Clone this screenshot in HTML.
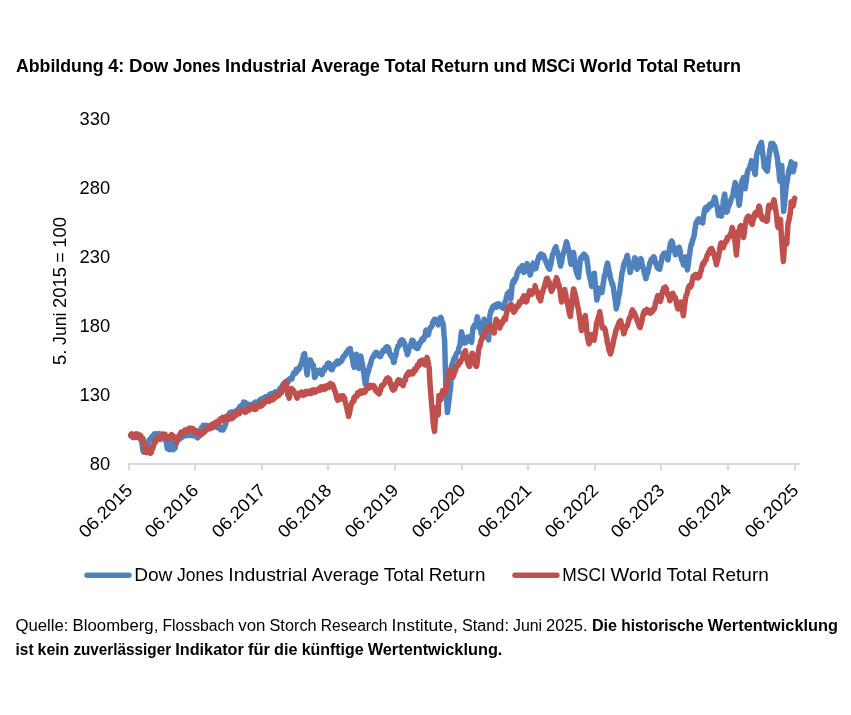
<!DOCTYPE html>
<html lang="de"><head><meta charset="utf-8"><title>Abbildung 4</title>
<style>html,body{margin:0;padding:0;background:#fff}body{width:851px;height:715px;overflow:hidden}svg{display:block}text{font-family:"Liberation Sans",sans-serif;fill:#000}.b{font-weight:bold}</style>
</head><body>
<svg width="851" height="715" viewBox="0 0 851 715">
<rect width="851" height="715" fill="#fff"/>
<text class="b" y="71.8" font-size="17.6"><tspan x="16.0" textLength="87.6" lengthAdjust="spacingAndGlyphs">Abbildung</tspan> <tspan x="108.2" textLength="16.1" lengthAdjust="spacingAndGlyphs">4:</tspan> <tspan x="129.0" textLength="39.3" lengthAdjust="spacingAndGlyphs">Dow</tspan> <tspan x="173.0" textLength="47.5" lengthAdjust="spacingAndGlyphs">Jones</tspan> <tspan x="225.1" textLength="81.3" lengthAdjust="spacingAndGlyphs">Industrial</tspan> <tspan x="311.1" textLength="68.8" lengthAdjust="spacingAndGlyphs">Average</tspan> <tspan x="384.6" textLength="41.6" lengthAdjust="spacingAndGlyphs">Total</tspan> <tspan x="430.9" textLength="58.1" lengthAdjust="spacingAndGlyphs">Return</tspan> <tspan x="493.6" textLength="33.1" lengthAdjust="spacingAndGlyphs">und</tspan> <tspan x="531.4" textLength="43.7" lengthAdjust="spacingAndGlyphs">MSCi</tspan> <tspan x="579.7" textLength="52.3" lengthAdjust="spacingAndGlyphs">World</tspan> <tspan x="636.7" textLength="41.6" lengthAdjust="spacingAndGlyphs">Total</tspan> <tspan x="682.9" textLength="58.1" lengthAdjust="spacingAndGlyphs">Return</tspan></text>
<text x="79.6" y="124.9" font-size="17.9" textLength="30.6" lengthAdjust="spacingAndGlyphs">330</text>
<text x="79.6" y="193.8" font-size="17.9" textLength="30.6" lengthAdjust="spacingAndGlyphs">280</text>
<text x="79.6" y="263.1" font-size="17.9" textLength="30.6" lengthAdjust="spacingAndGlyphs">230</text>
<text x="79.6" y="331.9" font-size="17.9" textLength="30.6" lengthAdjust="spacingAndGlyphs">180</text>
<text x="79.6" y="400.9" font-size="17.9" textLength="30.6" lengthAdjust="spacingAndGlyphs">130</text>
<text x="89.8" y="469.8" font-size="17.9" textLength="20.4" lengthAdjust="spacingAndGlyphs">80</text>
<text y="0" font-size="17.9" transform="translate(66.4 364.9) rotate(-90)"><tspan x="0.0" textLength="15.4" lengthAdjust="spacingAndGlyphs">5.</tspan> <tspan x="20.0" textLength="32.4" lengthAdjust="spacingAndGlyphs">Juni</tspan> <tspan x="56.9" textLength="41.1" lengthAdjust="spacingAndGlyphs">2015</tspan> <tspan x="102.5" textLength="10.1" lengthAdjust="spacingAndGlyphs">=</tspan> <tspan x="117.2" textLength="30.8" lengthAdjust="spacingAndGlyphs">100</tspan></text>
<path d="M129,470 V464 H800" stroke="#d9d9d9" stroke-width="2" stroke-linejoin="round" fill="none"/>
<path d="M195,464 V470 M262,464 V470 M328,464 V470 M395,464 V470 M462,464 V470 M528,464 V470 M595,464 V470 M661,464 V470 M728,464 V470 M795,464 V470" stroke="#d9d9d9" stroke-width="2" fill="none"/>
<text transform="translate(133.5 491.4) rotate(-45)" text-anchor="end" font-size="17.9" textLength="67.1" lengthAdjust="spacingAndGlyphs">06.2015</text>
<text transform="translate(199.5 491.4) rotate(-45)" text-anchor="end" font-size="17.9" textLength="67.1" lengthAdjust="spacingAndGlyphs">06.2016</text>
<text transform="translate(266.5 491.4) rotate(-45)" text-anchor="end" font-size="17.9" textLength="67.1" lengthAdjust="spacingAndGlyphs">06.2017</text>
<text transform="translate(332.5 491.4) rotate(-45)" text-anchor="end" font-size="17.9" textLength="67.1" lengthAdjust="spacingAndGlyphs">06.2018</text>
<text transform="translate(399.5 491.4) rotate(-45)" text-anchor="end" font-size="17.9" textLength="67.1" lengthAdjust="spacingAndGlyphs">06.2019</text>
<text transform="translate(466.5 491.4) rotate(-45)" text-anchor="end" font-size="17.9" textLength="67.1" lengthAdjust="spacingAndGlyphs">06.2020</text>
<text transform="translate(532.5 491.4) rotate(-45)" text-anchor="end" font-size="17.9" textLength="67.1" lengthAdjust="spacingAndGlyphs">06.2021</text>
<text transform="translate(599.5 491.4) rotate(-45)" text-anchor="end" font-size="17.9" textLength="67.1" lengthAdjust="spacingAndGlyphs">06.2022</text>
<text transform="translate(665.5 491.4) rotate(-45)" text-anchor="end" font-size="17.9" textLength="67.1" lengthAdjust="spacingAndGlyphs">06.2023</text>
<text transform="translate(732.5 491.4) rotate(-45)" text-anchor="end" font-size="17.9" textLength="67.1" lengthAdjust="spacingAndGlyphs">06.2024</text>
<text transform="translate(799.5 491.4) rotate(-45)" text-anchor="end" font-size="17.9" textLength="67.1" lengthAdjust="spacingAndGlyphs">06.2025</text>
<path d="M130.7,435.4 L131.2,434.3 L131.6,436.5 L132.1,435.6 L132.6,437.0 L133.1,437.5 L133.5,436.7 L134.0,436.0 L134.4,436.2 L134.9,434.1 L135.3,434.0 L135.7,435.0 L136.1,436.4 L136.6,436.7 L137.0,435.4 L137.4,435.5 L137.8,434.1 L138.2,434.3 L138.7,437.8 L139.1,435.5 L139.5,436.5 L140.0,436.9 L140.5,439.6 L141.0,437.8 L141.5,440.0 L141.9,443.0 L142.4,446.0 L142.9,450.4 L143.3,451.9 L143.7,449.7 L144.2,450.6 L144.6,452.0 L145.0,450.6 L145.5,448.4 L146.0,448.1 L146.5,448.2 L147.0,446.0 L147.5,445.9 L148.0,443.8 L148.5,442.5 L149.0,440.3 L149.5,440.3 L150.0,439.2 L150.5,439.0 L151.0,438.0 L151.5,436.9 L152.0,438.5 L152.5,436.4 L152.9,437.3 L153.3,435.4 L153.8,435.8 L154.2,434.1 L154.6,434.5 L155.0,434.7 L155.4,433.9 L155.9,435.3 L156.3,434.0 L156.7,434.2 L157.1,435.7 L157.6,434.4 L158.0,434.5 L158.4,435.8 L158.9,433.5 L159.3,435.8 L159.7,434.8 L160.1,434.5 L160.6,435.5 L161.0,435.2 L161.4,435.6 L161.9,435.2 L162.3,434.1 L162.7,434.2 L163.1,436.3 L163.6,436.4 L164.0,436.4 L164.4,438.3 L164.9,439.8 L165.4,440.7 L165.8,440.5 L166.2,441.6 L166.6,443.6 L167.0,446.7 L167.4,448.7 L167.9,444.4 L168.4,441.6 L168.9,446.4 L169.4,449.7 L169.9,446.7 L170.4,442.1 L170.9,446.5 L171.4,449.3 L171.9,446.3 L172.4,442.6 L172.9,447.0 L173.4,449.7 L173.8,446.2 L174.2,444.1 L174.6,445.3 L175.1,448.3 L175.6,445.2 L176.2,443.0 L176.6,443.1 L177.0,441.6 L177.4,440.5 L177.9,438.9 L178.3,438.5 L178.8,438.3 L179.3,438.1 L179.8,439.1 L180.2,437.4 L180.6,436.8 L181.0,436.7 L181.4,437.8 L181.9,437.1 L182.3,435.4 L182.7,435.7 L183.1,434.9 L183.5,436.3 L184.0,436.1 L184.4,435.5 L184.8,434.1 L185.2,435.2 L185.7,435.6 L186.1,432.1 L186.6,435.4 L187.0,432.8 L187.5,433.3 L187.9,433.5 L188.4,434.8 L188.8,435.4 L189.2,432.3 L189.6,434.3 L190.0,432.7 L190.5,434.1 L190.9,432.9 L191.3,435.5 L191.7,434.2 L192.1,434.8 L192.6,435.5 L193.0,434.4 L193.4,435.5 L193.8,435.7 L194.2,432.2 L194.7,432.7 L195.1,433.2 L195.5,433.5 L195.9,433.1 L196.3,434.3 L196.8,435.9 L197.2,437.6 L197.6,437.9 L198.0,437.5 L198.5,435.5 L199.0,433.9 L199.4,434.3 L199.9,432.8 L200.3,430.6 L200.8,429.3 L201.2,429.3 L201.6,427.2 L202.0,427.2 L202.5,428.0 L202.9,428.8 L203.4,425.3 L203.9,426.6 L204.3,426.9 L204.8,428.0 L205.3,428.7 L205.7,426.7 L206.2,425.3 L206.7,428.7 L207.1,428.8 L207.6,426.5 L208.1,427.2 L208.5,426.8 L209.0,427.9 L209.5,428.7 L209.9,425.7 L210.4,427.5 L210.8,428.5 L211.3,427.7 L211.7,425.0 L212.2,425.3 L212.7,425.6 L213.1,426.5 L213.6,427.4 L214.1,425.0 L214.5,425.1 L215.0,425.1 L215.5,425.2 L215.9,425.3 L216.4,426.0 L216.9,427.2 L217.3,426.3 L217.7,427.8 L218.1,426.7 L218.6,425.1 L219.0,425.4 L219.4,426.5 L219.9,427.1 L220.3,429.2 L220.8,429.7 L221.3,428.5 L221.7,428.3 L222.2,430.0 L222.6,430.0 L223.1,430.0 L223.5,428.4 L224.0,428.4 L224.4,426.5 L224.9,426.2 L225.3,425.0 L225.7,424.0 L226.1,420.3 L226.5,419.3 L227.0,419.0 L227.4,417.1 L227.8,416.0 L228.2,417.8 L228.6,414.4 L229.1,415.2 L229.5,414.2 L229.9,412.4 L230.3,412.4 L230.7,413.6 L231.1,412.9 L231.6,411.8 L232.1,412.9 L232.6,413.4 L233.0,412.2 L233.5,414.2 L234.0,412.0 L234.4,413.0 L234.9,411.7 L235.3,411.2 L235.8,411.3 L236.2,410.6 L236.7,413.8 L237.1,413.1 L237.6,411.8 L238.1,410.1 L238.5,409.2 L239.0,408.0 L239.5,407.9 L239.9,406.5 L240.4,406.7 L240.9,407.2 L241.4,405.5 L241.8,405.1 L242.3,405.5 L242.7,405.0 L243.2,405.4 L243.6,401.9 L244.1,403.6 L244.5,402.7 L245.0,404.1 L245.4,404.6 L245.9,402.9 L246.3,404.6 L246.8,405.6 L247.2,405.4 L247.7,404.8 L248.1,404.0 L248.5,407.1 L248.9,407.5 L249.3,406.8 L249.8,407.1 L250.2,407.0 L250.7,405.6 L251.1,407.8 L251.6,407.5 L252.1,407.0 L252.5,406.8 L253.0,403.8 L253.5,403.6 L253.9,404.2 L254.4,402.9 L254.9,403.9 L255.4,402.1 L255.8,405.1 L256.3,403.7 L256.8,403.0 L257.3,402.0 L257.7,402.9 L258.2,402.8 L258.6,403.5 L259.1,403.1 L259.6,400.6 L260.0,402.4 L260.5,399.4 L260.9,401.8 L261.4,401.0 L261.8,399.1 L262.3,399.4 L262.8,399.2 L263.2,399.4 L263.7,397.9 L264.1,400.3 L264.6,398.5 L265.1,400.0 L265.5,399.8 L266.0,396.5 L266.4,398.2 L266.9,396.9 L267.3,398.1 L267.8,397.3 L268.3,397.3 L268.7,396.7 L269.2,398.0 L269.6,394.5 L270.1,395.6 L270.5,394.6 L271.0,393.7 L271.5,395.5 L271.9,395.1 L272.4,395.3 L272.8,394.1 L273.3,394.8 L273.8,393.5 L274.2,395.5 L274.7,392.3 L275.1,391.9 L275.6,393.9 L276.0,392.7 L276.5,392.2 L277.0,394.5 L277.4,392.7 L277.9,392.9 L278.3,393.2 L278.8,392.8 L279.3,390.5 L279.8,388.9 L280.2,388.3 L280.7,390.5 L281.2,388.5 L281.6,387.8 L282.1,386.1 L282.5,385.2 L282.9,387.4 L283.3,384.1 L283.7,385.5 L284.2,384.1 L284.6,382.7 L285.1,385.0 L285.6,383.9 L286.1,381.2 L286.5,384.1 L287.0,381.9 L287.5,382.6 L287.9,381.5 L288.4,381.5 L288.9,379.4 L289.4,379.0 L289.8,378.7 L290.3,378.4 L290.8,378.1 L291.2,378.3 L291.7,379.0 L292.1,378.8 L292.6,375.7 L293.0,375.5 L293.4,373.6 L293.8,372.8 L294.2,372.7 L294.7,372.8 L295.2,373.5 L295.7,372.2 L296.1,369.6 L296.6,372.3 L297.1,368.9 L297.5,369.2 L298.0,369.6 L298.4,368.8 L298.8,369.5 L299.3,368.8 L299.7,367.8 L300.1,365.8 L300.5,365.2 L301.0,364.7 L301.5,363.2 L301.9,361.6 L302.4,358.9 L302.8,358.9 L303.3,355.5 L303.7,354.4 L304.1,354.3 L304.6,353.6 L305.0,357.4 L305.4,362.0 L305.8,365.2 L306.2,368.0 L306.7,372.0 L307.1,374.9 L307.5,371.4 L307.9,369.1 L308.3,365.2 L308.8,362.7 L309.2,361.7 L309.6,360.5 L310.0,359.8 L310.5,360.1 L311.0,363.7 L311.4,362.3 L311.9,363.3 L312.4,365.4 L312.9,365.2 L313.4,365.2 L313.8,368.5 L314.2,373.7 L314.6,377.4 L315.0,375.3 L315.4,376.6 L315.9,373.5 L316.3,374.0 L316.7,373.4 L317.2,371.0 L317.7,370.5 L318.1,370.8 L318.6,372.2 L319.0,371.6 L319.4,372.2 L319.8,372.9 L320.2,370.1 L320.7,371.5 L321.2,373.6 L321.7,374.7 L322.2,374.3 L322.6,372.4 L323.0,372.2 L323.4,370.3 L323.8,370.2 L324.3,370.4 L324.8,367.5 L325.2,367.8 L325.7,367.7 L326.2,367.9 L326.6,367.8 L327.1,364.3 L327.5,366.2 L328.0,363.4 L328.4,364.6 L328.9,363.0 L329.3,364.2 L329.8,363.7 L330.2,366.6 L330.7,368.2 L331.1,369.2 L331.6,369.8 L332.0,369.8 L332.4,368.9 L332.9,367.3 L333.3,366.3 L333.7,366.5 L334.2,365.7 L334.6,364.7 L335.0,364.4 L335.5,363.1 L335.9,362.6 L336.3,362.7 L336.8,361.9 L337.2,361.1 L337.7,361.5 L338.1,363.9 L338.5,360.9 L339.0,362.4 L339.4,362.8 L339.9,360.9 L340.3,361.3 L340.7,361.4 L341.2,361.6 L341.6,359.7 L342.0,359.9 L342.4,359.4 L342.8,357.2 L343.2,356.4 L343.7,356.8 L344.2,356.6 L344.7,355.2 L345.1,355.4 L345.6,353.6 L346.1,354.1 L346.6,352.0 L347.0,352.0 L347.5,352.6 L347.9,351.8 L348.4,349.4 L348.8,349.4 L349.3,351.1 L349.7,350.1 L350.2,348.6 L350.6,350.8 L351.0,352.0 L351.4,353.8 L351.9,357.3 L352.3,357.6 L352.7,360.2 L353.2,363.6 L353.7,366.0 L354.2,367.4 L354.7,364.4 L355.1,361.5 L355.6,359.5 L356.0,357.7 L356.5,354.2 L356.9,357.4 L357.3,360.0 L357.7,361.4 L358.2,362.9 L358.6,366.0 L359.0,368.6 L359.5,365.6 L359.9,362.9 L360.4,358.4 L360.9,356.1 L361.4,358.9 L361.9,362.3 L362.4,363.9 L362.9,367.5 L363.4,369.0 L363.9,373.6 L364.3,377.5 L364.8,381.3 L365.3,384.4 L365.7,381.7 L366.1,381.5 L366.5,378.1 L367.0,375.9 L367.4,374.4 L367.8,372.8 L368.2,372.2 L368.6,370.7 L369.1,368.1 L369.5,366.3 L369.9,366.3 L370.3,363.9 L370.8,363.8 L371.2,360.8 L371.7,359.4 L372.1,358.7 L372.6,357.3 L373.0,357.3 L373.5,356.4 L373.9,354.7 L374.3,355.2 L374.7,356.1 L375.1,355.6 L375.6,352.6 L376.0,353.0 L376.5,352.4 L376.9,352.9 L377.4,354.8 L377.9,354.4 L378.3,353.9 L378.8,354.5 L379.3,355.2 L379.8,356.7 L380.2,356.6 L380.7,356.2 L381.1,354.1 L381.6,354.2 L382.0,352.8 L382.5,351.8 L382.9,350.7 L383.4,350.1 L383.8,349.9 L384.3,351.4 L384.7,351.1 L385.2,350.8 L385.7,347.6 L386.1,348.2 L386.6,347.4 L387.0,346.7 L387.5,346.9 L387.9,347.3 L388.4,347.8 L388.8,348.7 L389.3,351.9 L389.7,353.5 L390.2,354.9 L390.6,354.2 L391.1,356.4 L391.6,356.4 L392.1,357.0 L392.5,358.0 L393.0,359.0 L393.5,362.4 L394.0,362.3 L394.4,361.2 L394.8,358.1 L395.3,355.8 L395.7,356.0 L396.1,353.8 L396.5,351.0 L397.0,349.3 L397.4,347.6 L397.8,346.1 L398.3,346.1 L398.7,346.3 L399.1,344.9 L399.6,345.1 L400.0,341.6 L400.5,342.2 L400.9,342.5 L401.3,340.0 L401.8,339.8 L402.2,340.0 L402.6,341.3 L403.1,340.5 L403.5,343.1 L403.9,342.5 L404.3,342.6 L404.8,344.3 L405.2,347.1 L405.7,346.7 L406.1,350.5 L406.6,350.2 L407.0,352.5 L407.4,354.8 L407.9,353.2 L408.3,351.7 L408.8,349.3 L409.2,347.8 L409.7,346.6 L410.1,347.3 L410.5,345.9 L411.0,344.1 L411.4,342.5 L411.9,340.4 L412.3,342.1 L412.7,341.7 L413.1,340.6 L413.5,342.6 L414.0,342.6 L414.4,343.8 L414.8,343.5 L415.2,346.7 L415.6,347.5 L416.1,347.9 L416.5,348.4 L416.9,348.5 L417.4,348.5 L417.8,348.4 L418.3,346.8 L418.8,346.1 L419.3,343.6 L419.7,342.7 L420.2,343.0 L420.7,342.6 L421.1,340.9 L421.6,339.7 L422.1,339.0 L422.6,340.5 L423.0,338.2 L423.5,339.7 L424.0,338.5 L424.4,336.9 L424.9,335.6 L425.3,333.7 L425.7,330.6 L426.1,330.2 L426.5,330.6 L426.9,334.1 L427.3,334.8 L427.8,333.2 L428.2,334.9 L428.6,334.3 L429.1,331.2 L429.5,330.0 L430.0,328.8 L430.4,327.6 L430.9,327.0 L431.3,326.4 L431.8,326.4 L432.3,324.8 L432.7,322.4 L433.2,321.5 L433.7,320.6 L434.2,319.7 L434.6,319.3 L435.1,319.2 L435.6,319.8 L436.0,319.6 L436.5,320.7 L436.9,321.0 L437.4,323.3 L437.8,323.7 L438.2,324.8 L438.7,322.6 L439.1,321.9 L439.5,319.9 L439.9,318.6 L440.3,317.7 L440.8,317.4 L441.2,319.1 L441.6,319.2 L442.0,322.5 L442.4,322.7 L442.9,323.0 L443.3,325.2 L443.7,330.4 L444.1,335.8 L444.6,340.3 L445.2,362.9 L445.8,385.2 L446.2,392.5 L446.6,398.5 L447.0,406.0 L447.4,412.5 L447.9,409.7 L448.3,405.4 L448.7,402.0 L449.2,398.9 L449.6,395.2 L450.0,391.3 L450.4,389.3 L450.8,385.2 L451.5,365.5 L451.9,365.4 L452.3,364.6 L452.7,362.7 L453.2,361.5 L453.6,359.2 L454.0,359.2 L454.5,357.5 L454.9,358.3 L455.4,358.2 L455.9,355.1 L456.3,353.8 L456.8,353.1 L457.3,352.9 L457.8,352.9 L458.2,351.8 L458.6,348.7 L459.0,347.5 L459.4,346.1 L459.9,345.3 L460.3,342.8 L460.7,338.5 L461.1,334.7 L461.5,331.8 L462.0,333.7 L462.5,336.0 L463.0,338.2 L463.4,341.5 L463.9,342.4 L464.3,343.0 L464.7,339.8 L465.1,341.2 L465.5,342.8 L465.9,341.5 L466.4,341.8 L466.8,338.6 L467.2,340.1 L467.6,337.1 L468.0,337.9 L468.5,336.9 L468.9,338.0 L469.4,339.8 L469.8,340.6 L470.3,338.7 L470.7,341.2 L471.2,340.9 L471.6,342.4 L472.0,338.5 L472.4,332.8 L472.9,328.9 L473.3,327.2 L473.7,328.1 L474.1,325.6 L474.6,326.7 L475.0,326.6 L475.4,325.2 L475.9,324.1 L476.3,322.0 L476.8,319.0 L477.3,316.7 L477.7,318.0 L478.1,319.8 L478.5,322.1 L479.0,323.9 L479.4,327.1 L479.8,328.9 L480.3,328.9 L480.7,330.0 L481.2,333.6 L481.7,333.6 L482.1,332.0 L482.5,328.4 L482.9,325.8 L483.4,324.9 L483.8,322.1 L484.2,319.2 L484.6,320.4 L485.0,322.1 L485.5,325.2 L485.9,324.6 L486.3,328.2 L486.7,328.9 L487.2,332.2 L487.7,333.6 L488.1,337.9 L488.6,339.9 L489.0,331.2 L489.4,323.1 L489.9,315.1 L490.3,313.6 L490.8,311.0 L491.3,311.5 L491.8,308.8 L492.2,309.5 L492.7,306.9 L493.2,306.3 L493.6,306.0 L494.1,306.7 L494.6,305.4 L495.1,306.4 L495.5,306.3 L496.0,307.1 L496.5,307.3 L496.9,304.2 L497.4,303.9 L497.9,304.1 L498.4,303.8 L498.8,303.9 L499.3,304.1 L499.8,304.4 L500.3,306.4 L500.7,305.1 L501.2,305.3 L501.7,306.0 L502.1,305.9 L502.6,307.9 L503.1,308.4 L503.5,306.9 L503.9,307.3 L504.3,306.1 L504.8,303.1 L505.2,301.5 L505.6,301.3 L506.1,299.6 L506.5,296.6 L506.9,296.2 L507.3,293.7 L507.8,294.2 L508.2,293.0 L508.6,293.6 L509.0,291.9 L509.5,294.7 L509.9,296.4 L510.4,298.1 L510.9,298.7 L511.3,294.4 L511.8,288.8 L512.2,284.0 L512.7,282.3 L513.1,281.0 L513.6,281.5 L514.1,282.3 L514.5,279.2 L515.0,280.4 L515.5,279.0 L515.9,277.8 L516.4,277.8 L516.8,275.2 L517.2,272.8 L517.7,272.1 L518.1,271.5 L518.6,270.0 L519.0,269.2 L519.4,270.4 L519.8,268.3 L520.2,270.6 L520.7,269.0 L521.1,268.8 L521.6,266.6 L522.1,267.8 L522.5,265.6 L523.0,267.0 L523.4,269.3 L523.8,272.4 L524.3,272.1 L524.7,269.3 L525.2,269.5 L525.6,266.2 L526.1,265.9 L526.5,265.4 L527.0,263.7 L527.4,264.6 L527.9,266.0 L528.3,268.4 L528.8,270.5 L529.2,270.6 L529.7,272.8 L530.1,275.0 L530.6,274.1 L531.0,271.4 L531.5,270.9 L531.9,267.4 L532.4,266.1 L532.8,264.8 L533.2,263.1 L533.7,264.3 L534.1,266.0 L534.5,267.2 L534.9,268.1 L535.4,268.7 L535.8,268.7 L536.2,267.6 L536.7,264.4 L537.2,263.3 L537.7,260.2 L538.1,259.7 L538.5,257.5 L538.9,256.2 L539.3,257.3 L539.8,256.4 L540.2,254.9 L540.6,254.2 L541.1,255.4 L541.5,254.1 L541.9,254.7 L542.4,256.3 L542.8,257.4 L543.3,255.3 L543.7,255.8 L544.1,257.1 L544.6,257.7 L545.0,259.7 L545.4,261.1 L545.8,260.7 L546.3,262.2 L546.7,263.7 L547.1,264.0 L547.5,265.9 L547.9,266.3 L548.4,268.0 L548.8,267.3 L549.2,267.4 L549.6,269.3 L550.0,266.4 L550.5,265.5 L550.9,263.9 L551.3,261.1 L551.7,259.2 L552.1,256.4 L552.6,254.4 L553.1,253.7 L553.6,252.4 L554.0,251.2 L554.5,249.1 L555.0,249.2 L555.4,248.4 L555.9,246.7 L556.3,248.7 L556.8,250.7 L557.2,251.1 L557.6,253.5 L558.0,254.3 L558.4,255.2 L558.9,258.2 L559.3,259.7 L559.7,262.5 L560.1,263.3 L560.6,266.1 L561.1,263.1 L561.5,262.7 L562.0,259.3 L562.5,256.1 L563.0,254.8 L563.5,252.7 L563.9,251.7 L564.4,250.1 L564.9,248.3 L565.4,246.5 L565.9,243.9 L566.4,241.7 L566.8,242.9 L567.3,244.2 L567.7,246.1 L568.2,249.1 L568.7,251.7 L569.1,252.7 L569.6,254.7 L570.1,259.1 L570.5,262.2 L571.0,264.3 L571.4,263.1 L571.9,259.3 L572.3,257.3 L572.7,256.6 L573.1,254.8 L573.5,252.4 L574.0,256.0 L574.5,259.6 L574.9,263.2 L575.4,267.8 L575.9,270.0 L576.3,271.7 L576.8,273.1 L577.2,274.5 L577.7,275.1 L578.1,276.9 L578.6,277.5 L579.0,272.4 L579.5,268.5 L580.0,263.0 L580.5,258.9 L580.9,257.6 L581.3,259.0 L581.7,257.0 L582.1,257.7 L582.6,256.4 L583.0,254.9 L583.5,254.8 L583.9,254.1 L584.4,254.4 L584.9,255.8 L585.3,258.2 L585.8,256.0 L586.3,257.1 L586.8,257.7 L587.2,262.0 L587.7,264.7 L588.2,268.9 L588.6,271.5 L589.1,274.4 L589.5,276.2 L590.0,278.5 L590.4,278.9 L590.9,281.7 L591.3,284.8 L591.8,286.3 L592.2,283.6 L592.6,280.9 L593.0,278.7 L593.5,276.6 L593.9,274.6 L594.3,273.2 L594.7,278.0 L595.1,282.2 L595.6,286.7 L596.0,290.7 L596.4,295.2 L596.8,300.1 L597.2,298.1 L597.7,297.0 L598.1,293.3 L598.5,291.7 L598.9,290.5 L599.3,288.3 L599.8,290.0 L600.2,289.3 L600.6,289.8 L601.0,291.3 L601.4,290.8 L601.9,292.6 L602.3,289.9 L602.7,288.1 L603.1,284.3 L603.5,281.8 L604.0,278.6 L604.4,276.6 L604.8,274.4 L605.3,273.8 L605.7,271.4 L606.2,268.0 L606.6,266.0 L607.1,265.1 L607.5,263.1 L608.0,266.1 L608.4,267.9 L608.9,270.0 L609.3,273.2 L609.8,273.5 L610.2,277.5 L610.7,279.1 L611.1,280.6 L611.5,281.0 L611.9,283.8 L612.4,283.4 L612.8,284.5 L613.2,286.6 L613.6,289.2 L614.1,293.2 L614.5,295.4 L615.0,298.9 L615.4,301.7 L615.9,305.7 L616.3,308.9 L616.8,306.0 L617.2,304.9 L617.7,303.1 L618.1,299.7 L618.6,297.0 L619.0,295.3 L619.5,292.9 L619.9,290.1 L620.3,285.4 L620.7,283.0 L621.1,280.3 L621.5,276.7 L622.0,272.8 L622.4,271.2 L622.8,270.5 L623.2,268.3 L623.6,265.0 L624.1,263.5 L624.5,262.7 L625.0,261.5 L625.4,260.5 L625.9,260.4 L626.4,259.2 L626.9,256.1 L627.4,255.5 L627.8,257.9 L628.3,261.9 L628.8,264.0 L629.2,265.9 L629.7,270.3 L630.1,272.4 L630.6,271.2 L631.0,268.9 L631.5,268.1 L631.9,266.0 L632.4,264.3 L632.8,264.3 L633.3,262.7 L633.8,262.8 L634.2,260.4 L634.7,257.9 L635.2,258.0 L635.6,260.4 L636.1,263.2 L636.6,266.1 L637.1,269.3 L637.5,267.1 L638.0,267.4 L638.5,264.3 L639.0,262.7 L639.4,262.8 L639.9,262.3 L640.4,259.5 L640.8,258.7 L641.3,259.5 L641.7,262.0 L642.1,264.9 L642.5,265.1 L642.9,267.3 L643.4,269.0 L643.8,269.9 L644.2,272.9 L644.6,273.9 L645.0,275.0 L645.5,277.4 L645.9,278.7 L646.3,277.3 L646.7,274.4 L647.1,273.2 L647.6,273.3 L648.0,271.5 L648.4,269.0 L648.8,267.9 L649.2,266.8 L649.6,263.4 L650.1,262.4 L650.5,262.5 L650.9,260.2 L651.4,259.0 L651.8,260.9 L652.3,260.5 L652.7,260.1 L653.2,258.0 L653.6,256.7 L654.1,257.4 L654.5,257.8 L654.9,260.6 L655.3,261.2 L655.7,263.8 L656.2,263.3 L656.6,265.2 L657.0,266.7 L657.5,267.8 L657.9,268.4 L658.4,266.6 L658.8,266.6 L659.3,267.6 L659.7,269.3 L660.1,266.4 L660.6,265.2 L661.0,262.9 L661.4,261.6 L661.8,258.2 L662.2,256.4 L662.7,255.2 L663.1,256.9 L663.6,256.4 L664.0,253.3 L664.5,255.1 L664.9,253.9 L665.4,253.0 L665.8,253.2 L666.2,255.2 L666.6,255.4 L667.1,256.6 L667.5,259.6 L667.9,259.8 L668.3,257.7 L668.7,253.4 L669.2,251.7 L669.6,247.8 L670.0,246.5 L670.4,243.2 L670.8,243.3 L671.3,242.6 L671.7,241.0 L672.2,242.0 L672.6,243.4 L673.1,245.7 L673.6,247.3 L674.0,250.7 L674.5,250.8 L675.0,252.7 L675.5,254.8 L675.9,253.0 L676.4,252.4 L676.9,253.3 L677.4,250.6 L677.8,251.3 L678.3,248.0 L678.8,249.1 L679.2,247.3 L679.7,249.7 L680.1,250.6 L680.5,254.4 L680.9,256.9 L681.3,257.5 L681.8,260.2 L682.2,259.9 L682.6,260.4 L683.0,262.0 L683.4,264.7 L683.9,265.1 L684.3,264.8 L684.7,262.1 L685.1,258.6 L685.5,256.8 L686.0,259.9 L686.5,263.5 L686.9,265.9 L687.4,269.9 L687.9,266.8 L688.3,264.4 L688.8,259.7 L689.2,256.4 L689.7,254.7 L690.1,250.2 L690.6,247.6 L691.0,245.3 L691.5,243.5 L691.9,243.8 L692.4,240.7 L692.8,239.2 L693.3,238.9 L693.7,237.5 L694.1,235.5 L694.5,233.0 L694.9,229.5 L695.3,227.4 L695.7,224.0 L696.2,222.5 L696.6,222.1 L697.0,221.3 L697.4,221.4 L697.8,219.7 L698.2,220.2 L698.7,218.9 L699.1,222.0 L699.5,219.7 L699.9,220.0 L700.4,221.6 L700.8,220.2 L701.2,220.6 L701.7,220.8 L702.2,222.4 L702.7,223.0 L703.1,218.9 L703.6,215.7 L704.1,213.2 L704.5,210.1 L705.0,209.2 L705.4,207.9 L705.9,207.5 L706.3,209.2 L706.8,209.9 L707.2,208.3 L707.7,207.6 L708.1,206.2 L708.5,208.1 L709.0,205.3 L709.4,206.9 L709.8,204.4 L710.2,205.1 L710.6,205.9 L711.1,205.8 L711.5,204.4 L711.9,203.3 L712.3,203.3 L712.7,202.6 L713.2,202.0 L713.7,200.4 L714.1,199.5 L714.6,197.3 L715.0,197.9 L715.5,199.6 L715.9,202.6 L716.3,203.3 L716.7,205.7 L717.1,206.4 L717.6,209.9 L718.0,212.0 L718.4,215.5 L718.9,214.7 L719.3,211.8 L719.8,210.0 L720.3,208.0 L720.7,211.2 L721.1,214.3 L721.5,216.1 L722.0,211.6 L722.5,208.8 L723.0,204.5 L723.4,200.1 L723.9,197.8 L724.3,195.5 L724.7,194.1 L725.2,199.4 L725.6,203.9 L726.1,208.3 L726.6,212.3 L727.0,210.9 L727.5,211.2 L727.9,207.6 L728.4,206.4 L728.8,205.7 L729.2,205.5 L729.7,203.3 L730.1,203.0 L730.6,201.0 L731.0,199.6 L731.4,198.6 L731.8,197.5 L732.2,196.8 L732.7,196.7 L733.1,193.6 L733.5,191.1 L733.9,188.7 L734.3,187.7 L734.8,184.8 L735.2,182.6 L735.6,183.5 L736.1,186.6 L736.6,189.5 L737.1,190.4 L737.5,193.2 L737.9,195.5 L738.3,199.3 L738.8,202.8 L739.2,205.2 L739.7,201.6 L740.1,197.5 L740.6,193.1 L741.0,188.1 L741.5,184.1 L741.9,181.4 L742.4,179.7 L742.9,179.8 L743.4,177.6 L743.8,180.7 L744.3,182.6 L744.8,185.1 L745.2,188.8 L745.7,184.3 L746.2,181.9 L746.7,177.1 L747.1,174.1 L747.6,171.6 L748.1,170.4 L748.5,169.3 L749.0,169.0 L749.4,168.0 L749.9,166.6 L750.3,164.8 L750.7,164.6 L751.1,162.9 L751.5,160.6 L752.0,161.5 L752.5,163.1 L753.0,165.3 L753.4,167.8 L753.9,168.3 L754.4,171.5 L754.8,173.8 L755.3,174.3 L755.7,167.7 L756.2,162.1 L756.6,155.2 L757.0,154.2 L757.4,151.4 L757.8,151.0 L758.3,150.0 L758.7,148.6 L759.1,146.4 L759.5,146.7 L760.0,146.1 L760.5,144.3 L760.9,143.0 L761.4,142.3 L761.9,145.8 L762.4,150.3 L762.9,155.2 L763.3,158.2 L763.7,162.0 L764.1,166.5 L764.6,167.8 L765.0,166.4 L765.5,167.1 L765.9,169.2 L766.4,170.2 L766.8,170.3 L767.3,171.2 L767.8,167.9 L768.2,162.7 L768.7,158.4 L769.2,155.2 L769.6,152.0 L770.1,148.5 L770.6,146.7 L771.0,143.6 L771.5,145.0 L772.0,145.8 L772.5,146.2 L772.9,143.5 L773.4,144.5 L773.9,147.2 L774.4,147.1 L774.8,146.4 L775.3,149.3 L775.8,151.6 L776.2,152.4 L776.7,155.2 L777.2,157.5 L777.7,160.6 L778.1,165.3 L778.6,167.8 L779.0,171.9 L779.4,177.4 L779.9,181.2 L780.3,176.6 L780.8,173.9 L781.3,169.7 L781.8,165.6 L782.3,178.9 L782.8,192.9 L783.2,202.2 L783.6,211.5 L784.1,207.7 L784.5,203.8 L784.9,199.7 L785.3,195.5 L785.7,191.3 L786.2,186.7 L786.6,184.1 L787.0,182.5 L787.4,179.5 L787.8,176.0 L788.3,174.8 L788.7,171.5 L789.1,169.7 L789.5,168.0 L789.9,167.3 L790.4,166.2 L790.8,163.2 L791.2,161.8 L791.7,163.4 L792.1,166.6 L792.6,169.5 L793.1,171.8 L793.6,170.8 L794.0,167.3 L794.5,166.9 L795.0,164.0" stroke="#4f81bd" stroke-width="5.5" stroke-linejoin="round" stroke-linecap="round" fill="none"/>
<path d="M130.7,435.4 L131.2,434.3 L131.6,433.9 L132.1,434.4 L132.6,436.7 L133.1,435.6 L133.5,435.8 L134.0,436.0 L134.4,434.7 L134.9,434.9 L135.3,437.4 L135.7,437.4 L136.1,437.3 L136.6,434.3 L137.0,435.4 L137.4,436.8 L137.8,437.4 L138.2,434.8 L138.7,436.5 L139.1,435.0 L139.5,436.4 L139.9,435.3 L140.3,435.4 L140.8,435.6 L141.2,438.1 L141.6,437.8 L142.0,439.8 L142.4,438.6 L142.9,438.3 L143.3,439.8 L143.7,444.0 L144.3,448.8 L144.7,448.7 L145.2,449.9 L145.6,452.3 L146.1,449.6 L146.6,446.6 L147.1,450.0 L147.6,452.7 L148.0,449.9 L148.5,448.8 L148.9,447.6 L149.3,448.5 L149.8,451.6 L150.2,452.9 L150.6,453.2 L151.1,452.8 L151.5,451.1 L152.0,449.4 L152.5,449.1 L153.0,447.7 L153.5,445.0 L154.0,444.1 L154.5,441.7 L155.0,441.8 L155.4,442.3 L155.8,439.2 L156.2,439.0 L156.6,439.6 L157.1,437.7 L157.6,437.4 L158.0,437.1 L158.5,438.3 L159.0,436.5 L159.5,439.0 L160.0,439.4 L160.5,437.6 L160.9,438.3 L161.4,438.0 L161.8,437.6 L162.3,435.9 L162.7,434.4 L163.1,434.8 L163.6,436.0 L164.0,435.1 L164.5,434.4 L165.0,434.3 L165.4,436.7 L165.9,435.7 L166.4,437.8 L166.9,438.8 L167.3,438.8 L167.8,438.1 L168.3,437.9 L168.7,436.6 L169.2,438.2 L169.7,437.8 L170.2,437.2 L170.6,436.9 L171.1,435.8 L171.6,434.5 L172.1,435.9 L172.5,435.3 L173.0,437.0 L173.5,437.7 L173.9,436.5 L174.4,437.6 L174.9,437.1 L175.3,437.9 L175.9,440.0 L176.4,442.5 L176.8,440.4 L177.3,438.9 L177.7,439.3 L178.2,437.6 L178.7,436.9 L179.1,435.4 L179.6,435.9 L180.1,434.6 L180.5,433.5 L181.0,432.2 L181.5,434.4 L182.0,434.5 L182.4,433.6 L182.9,432.2 L183.4,433.1 L183.9,433.3 L184.3,433.1 L184.8,430.0 L185.3,432.1 L185.7,430.2 L186.2,430.2 L186.7,430.3 L187.2,429.4 L187.6,430.2 L188.1,431.0 L188.6,430.7 L189.0,429.1 L189.5,428.2 L190.0,430.7 L190.5,429.7 L190.9,429.3 L191.4,429.3 L191.8,428.3 L192.3,428.4 L192.7,428.4 L193.2,429.0 L193.6,430.3 L194.1,430.9 L194.6,432.3 L195.0,432.4 L195.5,430.1 L196.0,431.7 L196.4,432.2 L196.9,432.5 L197.4,431.6 L197.9,432.4 L198.3,433.8 L198.8,432.9 L199.3,431.9 L199.7,433.1 L200.2,435.2 L200.7,435.1 L201.2,434.4 L201.6,434.2 L202.1,433.5 L202.5,433.7 L203.0,432.4 L203.4,432.2 L203.9,432.5 L204.3,430.9 L204.8,431.5 L205.3,431.5 L205.7,428.4 L206.2,429.0 L206.7,427.9 L207.1,429.6 L207.6,427.4 L208.1,427.2 L208.5,428.0 L209.0,426.2 L209.5,426.0 L209.9,428.1 L210.4,427.6 L210.8,427.8 L211.3,427.0 L211.7,424.6 L212.2,426.3 L212.7,425.7 L213.1,425.3 L213.6,425.1 L214.0,423.5 L214.5,423.0 L214.9,426.0 L215.4,425.8 L215.9,425.5 L216.3,423.9 L216.8,421.8 L217.2,422.9 L217.7,423.7 L218.2,422.8 L218.6,423.0 L219.1,420.3 L219.6,419.8 L220.0,421.3 L220.5,418.9 L221.0,421.0 L221.5,420.5 L221.9,419.0 L222.4,418.6 L222.8,417.4 L223.3,420.3 L223.8,420.2 L224.2,418.8 L224.7,418.3 L225.1,419.9 L225.6,418.0 L226.0,416.6 L226.5,417.8 L227.0,417.7 L227.4,416.7 L227.9,418.6 L228.3,419.6 L228.8,418.1 L229.3,417.9 L229.7,416.3 L230.2,415.9 L230.7,418.4 L231.1,415.6 L231.6,418.7 L232.1,418.1 L232.6,416.8 L233.0,417.5 L233.4,417.5 L233.8,414.7 L234.2,413.6 L234.7,415.9 L235.1,414.3 L235.5,413.7 L236.0,415.4 L236.5,412.4 L237.0,412.1 L237.4,414.0 L237.9,412.1 L238.4,413.9 L238.8,413.0 L239.3,413.7 L239.8,412.1 L240.3,410.9 L240.7,410.2 L241.2,410.1 L241.7,409.6 L242.1,410.5 L242.6,410.5 L243.1,411.1 L243.5,411.1 L244.0,411.3 L244.5,411.3 L244.9,412.2 L245.4,411.5 L245.8,412.2 L246.3,410.3 L246.7,409.1 L247.2,409.5 L247.7,410.5 L248.1,410.6 L248.6,408.4 L249.1,410.0 L249.6,410.0 L250.0,408.9 L250.5,406.0 L251.0,407.1 L251.4,406.5 L251.9,406.4 L252.4,408.7 L252.9,406.7 L253.3,406.4 L253.8,407.8 L254.3,408.5 L254.7,408.1 L255.2,409.5 L255.7,408.2 L256.2,409.0 L256.6,408.0 L257.1,406.0 L257.6,405.9 L258.0,405.7 L258.5,405.6 L259.0,405.5 L259.5,404.1 L259.9,403.4 L260.4,406.4 L260.9,406.1 L261.3,405.9 L261.8,405.6 L262.3,404.0 L262.8,403.6 L263.2,404.3 L263.7,402.6 L264.2,403.0 L264.6,402.9 L265.1,401.9 L265.6,400.3 L266.1,400.5 L266.5,401.1 L267.0,401.1 L267.5,399.8 L267.9,399.3 L268.4,399.2 L268.8,398.8 L269.3,401.5 L269.7,400.5 L270.2,398.0 L270.7,400.0 L271.1,399.4 L271.6,399.2 L272.1,399.9 L272.5,399.0 L273.0,397.3 L273.5,399.5 L273.9,396.3 L274.4,395.7 L274.9,396.6 L275.4,396.6 L275.8,397.3 L276.3,394.8 L276.7,394.4 L277.2,395.3 L277.6,396.1 L278.1,393.3 L278.6,395.5 L279.0,394.9 L279.5,394.3 L279.9,393.5 L280.4,393.5 L280.8,391.8 L281.3,392.8 L281.7,391.9 L282.2,388.9 L282.6,387.2 L283.1,387.8 L283.5,386.6 L284.0,387.0 L284.4,386.6 L284.8,384.2 L285.2,382.5 L285.6,382.1 L286.1,382.5 L286.5,384.9 L287.0,388.9 L287.5,393.0 L287.9,395.4 L288.4,395.0 L288.8,395.9 L289.2,398.2 L289.6,395.3 L290.0,392.9 L290.5,389.5 L290.9,388.6 L291.4,388.5 L291.8,388.8 L292.3,390.5 L292.7,389.7 L293.2,390.2 L293.6,391.6 L294.1,392.7 L294.5,391.9 L295.0,393.8 L295.4,393.6 L295.9,394.5 L296.3,396.7 L296.8,397.5 L297.2,398.0 L297.7,396.8 L298.2,395.6 L298.6,396.4 L299.1,393.5 L299.6,393.0 L300.1,395.0 L300.5,393.5 L301.0,394.7 L301.5,392.0 L301.9,392.0 L302.4,394.3 L302.9,393.8 L303.4,395.4 L303.8,394.9 L304.3,394.1 L304.8,393.9 L305.3,394.6 L305.7,394.1 L306.2,391.3 L306.7,391.7 L307.1,393.8 L307.6,393.0 L308.1,391.6 L308.5,392.5 L309.0,392.6 L309.5,393.4 L309.9,391.0 L310.4,390.8 L310.8,392.1 L311.3,393.4 L311.7,391.2 L312.2,390.2 L312.7,390.6 L313.1,391.6 L313.6,390.9 L314.0,389.8 L314.5,390.9 L314.9,392.3 L315.4,390.2 L315.9,391.9 L316.3,390.3 L316.8,390.1 L317.2,390.9 L317.7,390.3 L318.1,389.1 L318.6,389.4 L319.1,390.3 L319.5,389.3 L320.0,390.3 L320.4,387.6 L320.9,387.0 L321.4,388.4 L321.8,388.7 L322.3,388.4 L322.7,387.5 L323.2,388.5 L323.7,389.3 L324.1,386.4 L324.6,389.4 L325.1,387.1 L325.5,386.0 L326.0,388.6 L326.5,387.9 L327.0,386.6 L327.4,387.3 L327.9,387.5 L328.3,385.1 L328.8,387.4 L329.3,386.8 L329.7,384.6 L330.2,385.5 L330.6,383.4 L331.1,385.6 L331.5,385.2 L332.0,384.4 L332.5,384.5 L333.0,385.5 L333.5,386.7 L334.0,388.7 L334.4,390.4 L334.9,390.9 L335.3,392.0 L335.8,394.4 L336.2,394.7 L336.7,397.9 L337.1,398.7 L337.6,400.1 L338.1,399.0 L338.5,398.9 L339.0,396.6 L339.5,397.3 L340.0,399.1 L340.4,396.0 L340.9,397.6 L341.4,397.9 L341.8,398.9 L342.3,395.7 L342.8,397.0 L343.2,395.8 L343.7,397.9 L344.1,398.6 L344.5,397.9 L344.9,399.7 L345.3,401.8 L345.8,404.1 L346.2,405.7 L346.6,407.2 L347.0,408.0 L347.5,411.8 L348.0,412.7 L348.5,416.5 L349.0,413.7 L349.4,413.9 L349.8,411.3 L350.2,409.3 L350.6,407.4 L351.0,405.1 L351.4,404.2 L351.9,402.4 L352.4,402.6 L352.9,401.0 L353.3,401.8 L353.8,398.2 L354.3,399.8 L354.7,396.7 L355.2,396.7 L355.7,397.0 L356.2,395.9 L356.6,396.5 L357.1,394.9 L357.6,392.8 L358.0,395.3 L358.5,394.2 L359.0,392.9 L359.5,392.0 L359.9,392.9 L360.4,391.0 L360.9,391.5 L361.3,392.8 L361.8,393.1 L362.3,391.2 L362.8,392.3 L363.2,390.9 L363.7,390.6 L364.2,390.9 L364.6,392.3 L365.1,391.3 L365.6,391.4 L366.1,389.5 L366.5,389.1 L367.0,387.6 L367.5,386.7 L368.0,386.2 L368.4,385.7 L368.9,387.0 L369.4,387.8 L369.8,385.3 L370.3,385.4 L370.8,386.0 L371.2,387.1 L371.7,387.0 L372.1,387.1 L372.6,386.8 L373.0,385.4 L373.5,385.4 L373.9,386.8 L374.4,386.6 L374.9,387.9 L375.4,390.4 L375.8,390.1 L376.3,390.3 L376.8,390.1 L377.2,390.7 L377.7,392.8 L378.2,393.2 L378.7,393.1 L379.1,393.8 L379.6,393.1 L380.0,389.8 L380.4,390.7 L380.8,389.2 L381.2,386.8 L381.6,385.4 L382.1,385.4 L382.6,385.7 L383.1,385.2 L383.5,384.5 L384.0,384.0 L384.5,383.5 L384.9,382.5 L385.4,380.9 L385.9,380.5 L386.4,378.8 L386.8,378.5 L387.3,378.5 L387.8,378.0 L388.3,378.6 L388.7,380.1 L389.2,378.8 L389.6,379.7 L390.0,381.1 L390.5,384.4 L390.9,383.7 L391.3,385.7 L391.7,387.9 L392.2,387.9 L392.7,389.7 L393.1,390.0 L393.6,388.5 L394.1,387.5 L394.6,389.1 L395.0,387.4 L395.5,386.6 L395.9,384.7 L396.3,383.4 L396.8,382.9 L397.2,384.0 L397.6,380.9 L398.0,380.9 L398.4,379.8 L398.8,382.2 L399.3,383.0 L399.7,380.3 L400.1,380.2 L400.5,381.6 L400.9,382.3 L401.4,384.3 L401.8,382.2 L402.2,383.9 L402.6,383.9 L403.1,385.6 L403.5,384.3 L404.0,381.8 L404.5,380.5 L404.9,380.0 L405.4,380.4 L405.9,376.7 L406.3,375.8 L406.8,375.3 L407.3,373.9 L407.8,375.4 L408.2,373.0 L408.7,372.2 L409.2,372.5 L409.7,374.4 L410.1,372.1 L410.6,372.1 L411.1,371.9 L411.5,371.9 L411.9,372.1 L412.4,371.8 L412.9,373.9 L413.3,371.2 L413.8,372.1 L414.2,371.1 L414.6,369.1 L415.1,370.9 L415.5,368.9 L416.0,369.5 L416.4,368.3 L416.9,366.5 L417.3,365.3 L417.8,366.6 L418.3,364.4 L418.7,364.9 L419.2,365.3 L419.6,361.7 L420.1,361.2 L420.6,361.2 L421.0,360.8 L421.5,360.4 L421.9,360.5 L422.4,360.1 L422.8,360.6 L423.3,363.8 L423.7,363.4 L424.2,363.5 L424.6,363.3 L425.1,364.8 L425.5,361.9 L426.0,360.0 L426.5,360.3 L427.0,357.4 L427.4,360.3 L427.9,360.9 L428.3,363.0 L428.8,365.8 L429.2,367.7 L429.6,376.5 L430.1,385.2 L430.5,390.3 L431.0,395.9 L431.5,402.5 L432.0,407.8 L432.4,412.2 L432.8,417.5 L433.2,422.9 L433.6,426.4 L434.1,429.3 L434.5,431.4 L434.9,425.6 L435.3,420.5 L435.7,414.1 L436.2,412.7 L436.6,409.8 L437.0,406.9 L437.4,410.5 L437.8,412.8 L438.2,415.0 L438.9,395.6 L439.4,396.4 L439.8,399.1 L440.3,400.1 L440.8,399.9 L441.2,396.8 L441.7,395.1 L442.2,392.5 L442.7,390.6 L443.1,390.9 L443.5,392.8 L443.9,391.6 L444.3,393.0 L444.8,392.2 L445.2,393.6 L445.6,390.5 L446.1,389.1 L446.6,386.3 L447.1,382.7 L447.5,380.1 L447.9,377.0 L448.3,375.4 L448.8,372.8 L449.2,370.4 L449.6,372.2 L450.1,371.9 L450.5,374.3 L451.0,373.2 L451.4,375.9 L451.8,376.9 L452.3,375.9 L452.7,377.3 L453.2,375.8 L453.6,375.8 L454.0,373.7 L454.4,371.5 L454.8,372.1 L455.2,370.5 L455.7,369.8 L456.1,367.5 L456.5,366.6 L456.9,366.5 L457.3,365.4 L457.8,365.5 L458.2,365.4 L458.7,362.6 L459.2,361.7 L459.6,363.4 L460.1,361.5 L460.6,362.1 L461.1,360.5 L461.5,359.2 L462.0,359.0 L462.5,358.3 L463.0,354.9 L463.4,353.6 L463.9,352.6 L464.4,354.1 L464.8,352.6 L465.3,350.7 L465.8,354.1 L466.3,356.6 L466.7,359.0 L467.2,360.4 L467.6,362.4 L468.0,363.7 L468.5,364.7 L468.9,365.7 L469.3,366.4 L469.7,366.4 L470.1,364.6 L470.6,361.2 L471.0,360.1 L471.4,356.6 L471.8,354.7 L472.2,353.2 L472.7,354.2 L473.2,357.7 L473.7,357.5 L474.1,360.4 L474.6,360.4 L475.0,361.2 L475.4,363.7 L475.8,365.7 L476.2,365.7 L476.6,366.4 L477.1,363.1 L477.6,358.4 L478.1,354.4 L478.5,350.4 L479.0,348.3 L479.4,346.0 L479.9,346.6 L480.3,344.6 L480.8,341.6 L481.2,340.6 L481.7,339.0 L482.2,337.9 L482.6,336.1 L483.1,336.9 L483.6,337.3 L484.0,336.2 L484.5,333.0 L485.0,333.0 L485.5,332.7 L485.9,330.9 L486.4,329.6 L486.9,328.7 L487.4,330.5 L487.8,329.6 L488.3,328.7 L488.8,327.3 L489.2,325.5 L489.7,325.4 L490.2,325.3 L490.7,325.8 L491.1,326.4 L491.6,328.2 L492.1,328.5 L492.5,329.7 L493.0,330.2 L493.4,332.5 L493.8,331.6 L494.3,333.0 L494.7,328.8 L495.2,326.8 L495.7,321.9 L496.2,319.2 L496.6,321.2 L497.1,321.2 L497.6,321.2 L498.1,322.3 L498.5,323.4 L499.0,326.6 L499.5,326.0 L499.9,328.0 L500.4,325.9 L500.8,325.5 L501.3,323.3 L501.7,322.4 L502.2,323.3 L502.6,321.2 L503.1,320.1 L503.5,320.9 L503.9,318.9 L504.3,317.9 L504.8,317.7 L505.2,319.8 L505.6,318.9 L506.0,316.1 L506.4,313.9 L506.9,311.9 L507.3,310.5 L507.7,309.3 L508.1,306.9 L508.6,306.8 L509.0,307.0 L509.5,306.2 L509.9,307.1 L510.4,306.3 L510.8,304.0 L511.3,304.8 L511.7,305.2 L512.1,308.5 L512.5,308.8 L512.9,310.6 L513.4,310.1 L513.8,312.2 L514.2,311.6 L514.7,311.4 L515.1,308.2 L515.6,309.8 L516.0,307.5 L516.5,306.1 L516.9,305.7 L517.4,305.7 L517.9,306.4 L518.3,306.0 L518.8,305.2 L519.3,302.1 L519.8,302.6 L520.2,303.2 L520.7,302.5 L521.3,301.8 L521.7,301.8 L522.1,298.9 L522.5,298.4 L523.0,298.3 L523.4,297.6 L523.8,295.8 L524.2,295.9 L524.6,299.0 L525.1,297.6 L525.5,301.1 L525.9,302.0 L526.3,302.0 L526.8,301.1 L527.2,299.3 L527.7,296.8 L528.1,295.0 L528.6,295.1 L529.0,293.1 L529.5,290.8 L529.9,291.5 L530.3,291.2 L530.7,293.8 L531.2,294.3 L531.6,294.5 L532.0,293.8 L532.4,293.6 L532.9,291.7 L533.3,291.6 L533.8,290.5 L534.2,289.3 L534.7,287.8 L535.1,285.8 L535.6,288.0 L536.0,289.7 L536.5,290.8 L536.9,292.4 L537.4,291.5 L537.8,293.4 L538.3,295.5 L538.7,297.4 L539.2,296.3 L539.6,297.4 L540.1,299.9 L540.5,300.8 L541.0,298.7 L541.5,295.8 L541.9,293.9 L542.4,293.1 L542.9,291.3 L543.3,289.2 L543.8,288.0 L544.2,287.4 L544.7,285.9 L545.1,283.1 L545.6,282.9 L546.0,280.7 L546.5,278.8 L546.9,280.0 L547.3,278.2 L547.7,279.2 L548.1,282.2 L548.6,282.3 L549.0,281.6 L549.4,283.5 L549.8,284.0 L550.2,287.6 L550.7,288.5 L551.1,290.6 L551.5,291.3 L551.9,289.5 L552.3,289.8 L552.8,288.0 L553.2,286.8 L553.6,286.8 L554.0,286.6 L554.4,286.0 L554.9,283.9 L555.3,281.1 L555.7,281.1 L556.1,279.9 L556.5,277.6 L557.0,279.8 L557.4,279.6 L557.8,282.4 L558.2,284.0 L558.6,284.3 L559.1,285.4 L559.5,288.8 L559.9,290.1 L560.3,292.8 L560.7,295.8 L561.2,299.9 L561.6,302.0 L562.0,301.0 L562.5,299.4 L562.9,297.8 L563.4,296.0 L563.8,292.0 L564.3,292.1 L564.7,289.5 L565.2,292.5 L565.6,293.5 L566.1,296.5 L566.5,298.5 L567.0,300.0 L567.4,303.6 L567.9,305.5 L568.3,307.1 L568.7,309.5 L569.1,312.1 L569.5,313.9 L570.0,315.2 L570.4,316.5 L570.8,312.6 L571.3,307.9 L571.7,303.9 L572.2,300.9 L572.6,296.0 L573.1,292.7 L573.5,288.9 L574.0,289.5 L574.4,292.6 L574.8,292.5 L575.2,295.7 L575.6,296.5 L576.0,298.0 L576.5,300.7 L576.9,301.9 L577.3,305.3 L577.7,306.8 L578.2,308.3 L578.6,310.6 L579.0,313.2 L579.4,315.6 L579.8,319.5 L580.3,321.2 L580.7,324.0 L581.1,328.4 L581.5,330.6 L582.0,328.3 L582.5,327.8 L583.0,323.9 L583.4,323.1 L583.9,320.1 L584.4,318.4 L584.8,316.9 L585.3,315.6 L585.8,320.6 L586.3,324.8 L586.7,329.8 L587.2,335.4 L587.7,338.0 L588.2,340.7 L588.6,342.7 L589.1,343.8 L589.5,342.8 L589.9,341.8 L590.4,339.3 L590.8,336.9 L591.2,336.8 L591.6,334.5 L592.0,335.3 L592.5,335.0 L592.9,338.6 L593.3,337.0 L593.7,339.8 L594.1,340.1 L594.5,336.7 L595.0,335.2 L595.4,332.0 L595.8,329.4 L596.2,326.3 L596.6,322.8 L597.1,322.0 L597.5,320.1 L598.0,319.2 L598.4,316.7 L598.9,316.1 L599.3,314.2 L599.8,311.8 L600.2,315.2 L600.6,316.3 L601.0,319.1 L601.5,323.4 L601.9,324.9 L602.3,327.8 L602.8,328.2 L603.2,328.1 L603.7,327.4 L604.1,327.7 L604.6,328.6 L605.0,329.3 L605.5,330.4 L605.9,334.4 L606.4,336.4 L606.9,338.9 L607.4,342.9 L607.8,343.7 L608.2,345.2 L608.7,348.8 L609.1,350.4 L609.6,351.5 L610.0,352.6 L610.5,353.9 L610.9,352.4 L611.4,351.1 L611.8,347.1 L612.3,347.3 L612.7,345.3 L613.2,342.6 L613.6,340.4 L614.1,338.3 L614.5,336.8 L615.0,335.0 L615.4,332.6 L615.9,330.3 L616.3,329.9 L616.8,327.8 L617.3,327.8 L617.7,327.3 L618.2,324.6 L618.7,323.8 L619.1,322.0 L619.6,323.8 L620.1,321.1 L620.6,320.6 L621.0,322.0 L621.5,324.7 L621.9,327.2 L622.4,328.3 L622.8,328.9 L623.3,331.4 L623.7,333.8 L624.2,333.3 L624.6,331.0 L625.0,329.9 L625.5,328.2 L625.9,327.4 L626.4,326.2 L626.8,325.7 L627.2,326.1 L627.7,324.7 L628.1,322.8 L628.6,321.0 L629.0,319.2 L629.4,317.9 L629.9,318.1 L630.3,317.5 L630.8,316.3 L631.2,313.0 L631.6,311.5 L632.1,312.0 L632.5,309.9 L633.0,311.5 L633.5,313.2 L633.9,312.0 L634.4,314.1 L634.9,314.0 L635.4,315.5 L635.8,316.5 L636.3,317.8 L636.8,319.8 L637.2,320.0 L637.7,322.4 L638.2,322.1 L638.7,324.1 L639.1,326.3 L639.6,325.8 L640.1,327.5 L640.5,325.2 L641.0,324.7 L641.4,322.8 L641.9,320.8 L642.3,318.8 L642.8,315.8 L643.2,314.0 L643.7,312.4 L644.2,314.1 L644.6,310.8 L645.1,313.1 L645.6,312.5 L646.1,311.9 L646.5,310.9 L647.0,309.3 L647.5,310.9 L647.9,310.3 L648.4,312.5 L648.9,312.5 L649.3,312.5 L649.8,311.7 L650.3,313.3 L650.8,311.8 L651.2,312.5 L651.7,310.3 L652.2,311.8 L652.6,310.6 L653.1,308.8 L653.6,309.6 L654.1,309.3 L654.5,308.4 L654.9,307.0 L655.3,303.9 L655.7,302.1 L656.2,300.7 L656.6,299.2 L657.1,298.2 L657.5,296.2 L658.0,295.5 L658.5,295.8 L658.9,296.0 L659.4,298.3 L659.9,301.1 L660.4,301.4 L660.8,298.9 L661.2,298.2 L661.6,296.1 L662.0,293.5 L662.5,291.6 L662.9,290.4 L663.3,290.9 L663.7,287.9 L664.1,288.7 L664.5,288.3 L665.0,288.7 L665.4,287.0 L665.8,287.9 L666.2,288.6 L666.6,292.1 L667.1,292.2 L667.5,293.6 L667.9,295.4 L668.4,295.5 L668.8,296.8 L669.3,298.2 L669.8,300.7 L670.2,299.9 L670.7,297.3 L671.1,296.2 L671.6,295.5 L672.0,294.7 L672.5,293.4 L672.9,293.3 L673.4,295.1 L673.8,296.2 L674.2,297.0 L674.6,297.7 L675.0,297.1 L675.5,297.9 L675.9,300.2 L676.3,302.7 L676.7,304.5 L677.1,306.3 L677.6,307.9 L678.0,308.9 L678.4,308.9 L678.9,308.3 L679.3,307.3 L679.8,304.9 L680.2,304.0 L680.7,302.1 L681.1,302.1 L681.6,304.3 L682.0,307.8 L682.5,309.5 L682.9,313.1 L683.4,315.8 L683.8,311.9 L684.2,307.9 L684.7,304.5 L685.1,301.6 L685.5,297.9 L685.9,296.4 L686.4,294.8 L686.8,294.5 L687.2,292.9 L687.6,291.0 L688.0,289.1 L688.5,287.5 L688.9,286.6 L689.4,286.0 L689.8,285.5 L690.3,286.5 L690.7,286.9 L691.2,285.4 L691.7,284.2 L692.1,281.1 L692.6,279.7 L693.1,276.5 L693.6,277.6 L694.0,277.0 L694.5,277.1 L695.0,274.6 L695.4,274.4 L695.9,277.5 L696.4,277.1 L696.9,275.9 L697.3,276.8 L697.7,276.9 L698.1,277.9 L698.5,274.6 L699.0,277.0 L699.4,276.5 L699.8,275.7 L700.2,272.6 L700.6,271.6 L701.1,270.9 L701.5,269.0 L701.9,266.5 L702.4,265.9 L702.8,263.5 L703.3,264.7 L703.8,264.1 L704.3,262.7 L704.7,261.3 L705.2,260.0 L705.7,260.2 L706.1,260.0 L706.5,257.9 L706.9,255.8 L707.4,254.7 L707.8,254.7 L708.2,253.9 L708.6,252.1 L709.1,252.9 L709.5,252.9 L710.0,249.5 L710.4,250.2 L710.9,248.7 L711.3,248.6 L711.8,248.5 L712.2,251.6 L712.6,249.9 L713.0,251.3 L713.4,254.0 L713.9,253.9 L714.3,254.9 L714.7,257.6 L715.1,258.5 L715.5,260.1 L716.0,262.3 L716.4,264.8 L716.8,263.2 L717.3,260.7 L717.7,259.6 L718.1,258.0 L718.6,255.7 L719.0,252.9 L719.5,251.2 L720.0,247.5 L720.4,245.9 L720.9,243.2 L721.3,242.9 L721.8,243.4 L722.2,244.1 L722.6,247.5 L723.0,247.5 L723.4,247.6 L723.8,246.2 L724.3,244.2 L724.7,243.8 L725.1,242.8 L725.5,242.5 L726.0,240.3 L726.4,240.2 L726.9,240.9 L727.4,237.4 L727.8,238.6 L728.3,237.6 L728.8,236.4 L729.2,236.8 L729.7,236.6 L730.1,235.9 L730.6,233.7 L731.0,233.2 L731.4,231.2 L731.8,228.8 L732.2,227.5 L732.7,228.9 L733.1,230.8 L733.5,234.6 L733.9,235.1 L734.3,237.4 L734.8,240.3 L735.2,243.5 L735.6,247.0 L736.0,250.7 L736.4,255.1 L736.8,249.8 L737.3,245.2 L737.7,240.3 L738.1,236.2 L738.5,231.5 L739.0,230.4 L739.4,230.4 L739.8,227.5 L740.2,226.3 L740.6,226.1 L741.0,225.6 L741.5,227.2 L741.9,228.8 L742.3,230.5 L742.7,233.1 L743.2,235.1 L743.6,237.5 L744.0,234.2 L744.4,232.4 L744.8,228.0 L745.2,225.1 L745.7,223.7 L746.1,220.2 L746.5,219.0 L747.0,218.5 L747.4,216.8 L747.9,216.5 L748.3,216.2 L748.8,219.0 L749.2,216.8 L749.7,216.8 L750.1,217.1 L750.5,218.1 L750.9,221.3 L751.3,222.3 L751.8,224.0 L752.2,224.3 L752.6,222.6 L753.0,220.6 L753.4,219.1 L753.9,217.9 L754.3,215.8 L754.7,213.9 L755.1,212.9 L755.5,213.9 L756.0,215.7 L756.4,215.1 L756.8,213.9 L757.2,213.9 L757.7,210.9 L758.2,211.1 L758.6,207.0 L759.1,206.1 L759.5,207.3 L759.9,209.0 L760.4,213.0 L760.8,213.7 L761.2,216.6 L761.6,217.7 L762.0,219.1 L762.5,217.9 L762.9,218.4 L763.3,217.5 L763.7,219.5 L764.1,218.4 L764.6,219.8 L765.0,220.5 L765.5,220.3 L765.9,220.6 L766.4,221.3 L766.8,221.3 L767.3,220.5 L767.7,215.7 L768.1,210.5 L768.5,206.4 L769.0,205.3 L769.4,207.8 L769.8,208.4 L770.2,207.0 L770.6,207.2 L771.1,207.0 L771.5,206.8 L772.0,205.9 L772.5,204.7 L773.0,202.8 L773.5,201.7 L774.0,199.8 L774.4,201.6 L774.8,204.8 L775.2,206.6 L775.7,209.6 L776.1,212.7 L776.6,215.6 L777.0,220.7 L777.5,224.5 L778.0,227.4 L778.4,226.8 L778.8,225.9 L779.2,222.5 L779.7,222.6 L780.1,220.6 L780.5,219.3 L780.9,227.1 L781.3,234.7 L781.8,241.7 L782.2,247.2 L782.6,252.2 L783.0,256.9 L783.4,261.4 L783.9,254.2 L784.4,246.1 L784.9,238.2 L785.4,240.6 L785.9,241.4 L786.3,243.6 L786.8,243.8 L787.2,236.4 L787.6,230.1 L788.1,222.8 L788.5,221.9 L789.0,220.1 L789.5,216.2 L790.0,215.2 L790.4,210.9 L790.8,206.9 L791.2,201.7 L791.7,201.8 L792.2,205.2 L792.6,204.7 L793.1,206.0 L793.5,203.1 L793.9,202.2 L794.3,199.2 L794.7,198.2" stroke="#c0504d" stroke-width="5.5" stroke-linejoin="round" stroke-linecap="round" fill="none"/>
<path d="M87,575.3 H129" stroke="#4f81bd" stroke-width="5.4" stroke-linecap="round" fill="none"/>
<text y="580.8" font-size="17.9"><tspan x="134.2" textLength="38.2" lengthAdjust="spacingAndGlyphs">Dow</tspan> <tspan x="177.0" textLength="46.6" lengthAdjust="spacingAndGlyphs">Jones</tspan> <tspan x="228.3" textLength="78.9" lengthAdjust="spacingAndGlyphs">Industrial</tspan> <tspan x="311.8" textLength="67.3" lengthAdjust="spacingAndGlyphs">Average</tspan> <tspan x="383.8" textLength="40.3" lengthAdjust="spacingAndGlyphs">Total</tspan> <tspan x="428.7" textLength="56.7" lengthAdjust="spacingAndGlyphs">Return</tspan></text>
<path d="M515,575.3 H557" stroke="#c0504d" stroke-width="5.4" stroke-linecap="round" fill="none"/>
<text y="580.8" font-size="17.9"><tspan x="562.3" textLength="43.5" lengthAdjust="spacingAndGlyphs">MSCI</tspan> <tspan x="610.5" textLength="51.4" lengthAdjust="spacingAndGlyphs">World</tspan> <tspan x="666.5" textLength="40.5" lengthAdjust="spacingAndGlyphs">Total</tspan> <tspan x="711.8" textLength="57.0" lengthAdjust="spacingAndGlyphs">Return</tspan></text>
<text y="630.5" font-size="15.6"><tspan x="15.4" textLength="53.1" lengthAdjust="spacingAndGlyphs">Quelle:</tspan> <tspan x="72.6" textLength="85.7" lengthAdjust="spacingAndGlyphs">Bloomberg,</tspan> <tspan x="162.4" textLength="71.8" lengthAdjust="spacingAndGlyphs">Flossbach</tspan> <tspan x="238.3" textLength="27.2" lengthAdjust="spacingAndGlyphs">von</tspan> <tspan x="269.5" textLength="47.1" lengthAdjust="spacingAndGlyphs">Storch</tspan> <tspan x="320.8" textLength="66.7" lengthAdjust="spacingAndGlyphs">Research</tspan> <tspan x="391.6" textLength="66.2" lengthAdjust="spacingAndGlyphs">Institute,</tspan> <tspan x="462.0" textLength="46.9" lengthAdjust="spacingAndGlyphs">Stand:</tspan> <tspan x="513.0" textLength="29.1" lengthAdjust="spacingAndGlyphs">Juni</tspan> <tspan x="546.1" textLength="41.4" lengthAdjust="spacingAndGlyphs">2025.</tspan></text>
<text class="b" y="630.5" font-size="15.6"><tspan x="591.9" textLength="25.2" lengthAdjust="spacingAndGlyphs">Die</tspan> <tspan x="621.3" textLength="82.3" lengthAdjust="spacingAndGlyphs">historische</tspan> <tspan x="707.7" textLength="130.2" lengthAdjust="spacingAndGlyphs">Wertentwicklung</tspan></text>
<text class="b" y="655" font-size="15.6"><tspan x="15.6" textLength="17.9" lengthAdjust="spacingAndGlyphs">ist</tspan> <tspan x="37.6" textLength="31.7" lengthAdjust="spacingAndGlyphs">kein</tspan> <tspan x="73.4" textLength="97.7" lengthAdjust="spacingAndGlyphs">zuverlässiger</tspan> <tspan x="175.2" textLength="68.7" lengthAdjust="spacingAndGlyphs">Indikator</tspan> <tspan x="248.0" textLength="22.0" lengthAdjust="spacingAndGlyphs">für</tspan> <tspan x="274.1" textLength="23.4" lengthAdjust="spacingAndGlyphs">die</tspan> <tspan x="301.7" textLength="61.9" lengthAdjust="spacingAndGlyphs">künftige</tspan> <tspan x="367.7" textLength="134.7" lengthAdjust="spacingAndGlyphs">Wertentwicklung.</tspan></text>
</svg></body></html>
